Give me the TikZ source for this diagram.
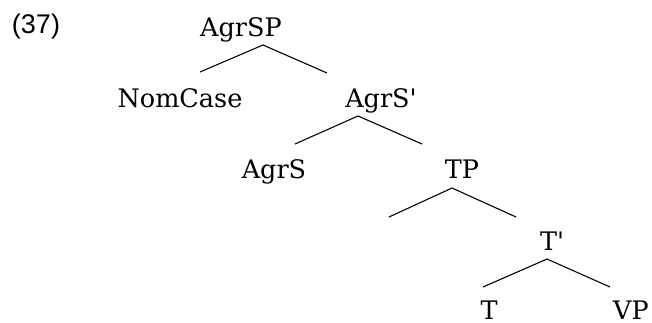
\documentclass[tikz,border=0pt]{standalone}
\usepackage{fontspec}
\setmainfont{DejaVu Serif}
\newfontfamily\exfont{Liberation Sans}
\tikzset{
  branch/.style={line width=1.1pt},
  cat/.style={inner sep=0pt, anchor=base}
}
\begin{document}
\begin{tikzpicture}[x=1pt,y=-1pt]
\useasboundingbox (0,0) rectangle (652,322);
{\fontsize{25.5}{30}\selectfont

% Marking example number
\node [cat, font=\exfont\fontsize{27}{30}\selectfont] (num) at (36,33) {(37)};

% Marking AgrSP
\node [cat] (agrsp) at (241,36) {AgrSP};
\coordinate (a1) at (263,45);
\coordinate (l1) at (200,72);
\coordinate (r1) at (327,73);
\draw [branch] (l1) -- (a1) -- (r1);%

% Marking NomCase and AgrS'
\node [cat] (nomcase) at (180,107) {NomCase};
\node [cat] (agrsbar) at (381,107) {AgrS\textquotesingle};

% Drawing branches of AgrS'
\coordinate (a2) at (358,116);
\coordinate (l2) at (295,144);
\coordinate (r2) at (422,144);
\draw [branch] (l2) -- (a2) -- (r2);%

% Marking AgrS and TP
\node [cat] (agrs) at (274,178) {AgrS};
\node [cat] (tp) at (462,178) {TP};

% Drawing branches of TP
\coordinate (a3) at (452,188);
\coordinate (l3) at (389,217);
\coordinate (r3) at (516,217);
\draw [branch] (l3) -- (a3) -- (r3);%

% Marking T'
\node [cat] (tbar) at (552,250) {T\textquotesingle};

% Drawing branches of T'
\coordinate (a4) at (547,259);
\coordinate (l4) at (483,287);
\coordinate (r4) at (610,287);
\draw [branch] (l4) -- (a4) -- (r4);%

% Marking T and VP
\node [cat] (t) at (489,319) {T};
\node [cat] (vp) at (631,319) {VP};
}
\end{tikzpicture}
\end{document}
